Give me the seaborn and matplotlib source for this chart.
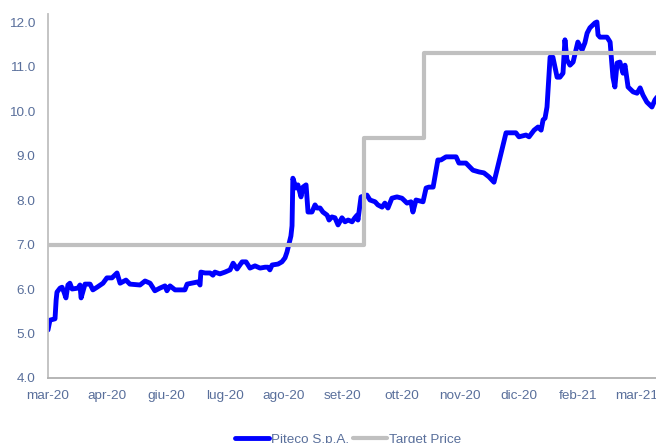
import matplotlib
matplotlib.use("Agg")
import matplotlib.pyplot as plt
import seaborn as sns
import pandas as pd

# ---- data (trading-day index, price) ----
price_day = [0.0, 0.7, 2.5, 2.9, 3.2, 4.3, 5.0, 5.7, 6.4, 7.1, 7.8, 8.6, 10.7, 11.4, 11.8,
             13.2, 15.0, 16.0, 17.5, 19.6, 21.0, 22.8, 24.6, 25.7, 27.8, 29.2, 32.8, 34.6,
             36.4, 38.1, 39.9, 41.7, 42.4, 43.5, 45.3, 48.8, 49.6, 53.5, 54.2, 54.5, 56.0,
             57.8, 58.8, 59.5, 61.3, 63.1, 64.9, 66.0, 67.4, 69.2, 70.6, 72.0, 73.8, 75.6,
             77.4, 78.4, 79.1, 79.9, 82.0, 83.4, 84.5, 85.2, 85.9, 86.6, 87.0, 87.3, 88.4,
             89.1, 90.2, 90.9, 92.0, 92.7, 94.1, 95.2, 95.9, 97.0, 98.0, 99.5, 100.2, 101.2,
             102.3, 103.4, 104.8, 105.9, 107.0, 108.4, 109.4, 110.2, 110.5, 111.6, 113.7,
             114.8, 116.6, 117.6, 119.1, 120.1, 121.2, 122.6, 124.4, 126.2, 128.0, 129.4,
             130.1, 131.2, 133.7, 134.8, 135.8, 137.3, 139.0, 140.1, 141.9, 143.7, 145.5,
             146.5, 149.0, 151.5, 153.7, 155.4, 157.2, 159.0, 163.3, 166.8, 167.9, 170.4,
             171.5, 173.3, 174.7, 175.8, 176.5, 177.2, 177.9, 179.0, 180.0, 181.5, 182.5,
             183.6, 184.3, 185.0, 186.1, 187.2, 188.9, 190.4, 191.4, 192.2, 193.2, 195.0,
             195.7, 196.1, 196.8, 199.3, 200.4, 201.4, 202.1, 202.9, 203.9, 205.0, 205.7,
             206.8, 208.6, 210.0, 211.1, 212.1, 213.5, 215.3, 216.4, 217.1]
price_val = [5.08, 5.30, 5.33, 5.75, 5.93, 6.02, 6.04, 5.93, 5.80, 6.09, 6.13, 6.00, 6.02, 6.09, 5.80,
             6.11, 6.11, 5.98, 6.04, 6.13, 6.25, 6.25, 6.36, 6.13, 6.20, 6.11, 6.09, 6.18,
             6.13, 5.96, 6.02, 6.07, 5.96, 6.07, 5.98, 5.98, 6.11, 6.16, 6.09, 6.38, 6.36,
             6.36, 6.31, 6.38, 6.34, 6.38, 6.43, 6.58, 6.45, 6.61, 6.61, 6.47, 6.52, 6.47,
             6.49, 6.49, 6.43, 6.54, 6.56, 6.61, 6.70, 6.83, 7.01, 7.19, 7.42, 8.49, 8.27,
             8.34, 8.07, 8.29, 8.34, 7.73, 7.73, 7.89, 7.82, 7.82, 7.73, 7.66, 7.55, 7.62,
             7.60, 7.44, 7.60, 7.51, 7.55, 7.51, 7.60, 7.66, 7.55, 8.07, 8.11,
             8.00, 7.96, 7.89, 7.84, 7.93, 7.82, 8.04, 8.07, 8.04, 7.93, 7.96,
             7.73, 8.00, 7.96, 8.27, 8.29, 8.29, 8.90, 8.90, 8.97, 8.97, 8.97,
             8.83, 8.83, 8.67, 8.63, 8.61, 8.52, 8.40, 9.51, 9.51, 9.42, 9.46,
             9.42, 9.57, 9.64, 9.57, 9.80, 9.84, 10.09, 11.21, 11.21, 10.76, 10.76,
             10.85, 11.60, 11.15, 11.03, 11.10, 11.55, 11.37, 11.53, 11.75, 11.87, 11.98,
             12.00, 11.71, 11.66, 11.66, 11.55, 10.76, 10.54, 11.08, 11.10, 10.85, 11.03,
             10.54, 10.43, 10.40, 10.52, 10.36, 10.20, 10.09, 10.25, 10.31]

target_day = [0.0, 112.5, 134.2, 222.0]
target_val = [7.0, 9.4, 11.3, 11.3]

tick_days = [0, 21, 42, 63, 84, 105, 126, 147, 168, 189, 210]
tick_labels = ["mar-20", "apr-20", "giu-20", "lug-20", "ago-20", "set-20",
               "ott-20", "nov-20", "dic-20", "feb-21", "mar-21"]
y_ticks = [4.0, 5.0, 6.0, 7.0, 8.0, 9.0, 10.0, 11.0, 12.0]

sns.set_style("white")
plt.rcParams["font.family"] = ["Liberation Sans", "DejaVu Sans"]

label_color = "#596f9b"
W, H = 656, 443
fig = plt.figure(figsize=(W / 100, H / 100), dpi=100)
ax = fig.add_axes([48 / W, 65 / H, 622.7 / W, 364 / H])

price_df = pd.DataFrame({"day": price_day, "price": price_val})
target_df = pd.DataFrame({"day": target_day, "price": target_val})

sns.lineplot(data=price_df, x="day", y="price", ax=ax, color="#0000ff", lw=3.5,
             sort=False, estimator=None, label="Piteco S.p.A.", zorder=2)
sns.lineplot(data=target_df, x="day", y="price", ax=ax, color="#c0c0c0", lw=3.0,
             sort=False, estimator=None, drawstyle="steps-post", label="Target Price", zorder=3)

ax.set_xlim(0, 222)
ax.set_ylim(4.0, 12.18)
ax.set_yticks(y_ticks)
ax.set_yticklabels([f"{v:.1f}" for v in y_ticks])
ax.set_xticks(tick_days)
ax.set_xticklabels(tick_labels)
ax.set_xlabel("")
ax.set_ylabel("")

for s in ["top", "right"]:
    ax.spines[s].set_visible(False)
ax.spines["left"].set_color("#bfbfbf")
ax.spines["left"].set_linewidth(1.3)
ax.spines["bottom"].set_color("#b0b0b0")
ax.spines["bottom"].set_linewidth(1.3)

ax.tick_params(axis="y", direction="in", length=3, width=1, color="#a0a0a0",
               labelsize=9.7, labelcolor=label_color, pad=9)
ax.tick_params(axis="x", direction="in", length=4, width=1, color="#a0a0a0",
               labelsize=9.7, labelcolor=label_color, pad=8.5)
ax.grid(False)

ax.get_legend().remove()
handles, labels = ax.get_legend_handles_labels()
leg = fig.legend(handles, labels, loc="center", bbox_to_anchor=(348 / W, 1 - 439.5 / H),
                 ncol=2, frameon=False, fontsize=9.7, handlelength=2.5,
                 handletextpad=0.15, columnspacing=0.3, borderpad=0)
for t in leg.get_texts():
    t.set_color(label_color)

fig.savefig("out.png", dpi=100)
